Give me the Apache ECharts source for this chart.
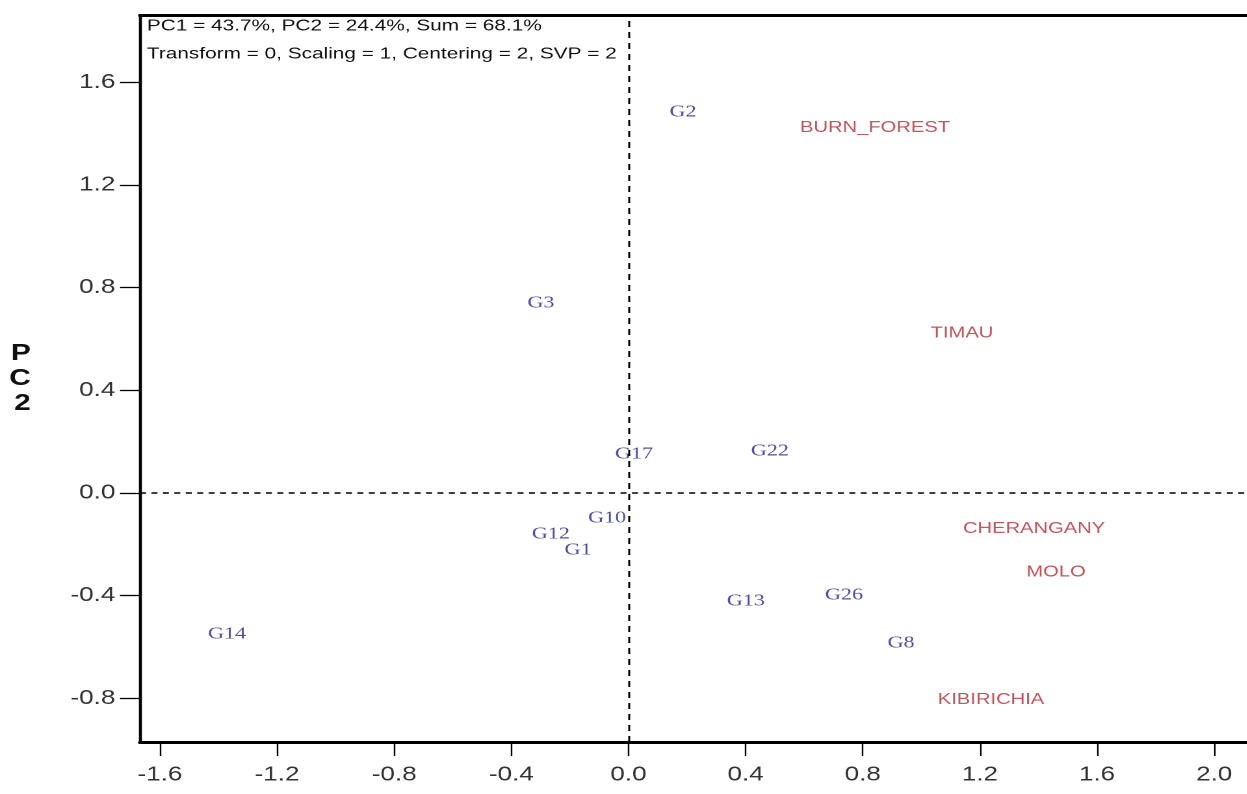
<!DOCTYPE html>
<html>
<head>
<meta charset="utf-8">
<script src="https://cdn.jsdelivr.net/npm/echarts@6/dist/echarts.min.js"></script>
<style>
html,body{margin:0;padding:0;background:#fff;overflow:hidden;width:1247px;height:794px;}
#c{width:959px;height:794px;transform:scaleX(1.3);transform-origin:0 0;}
</style>
</head>
<body>
<div id="c"></div>
<script>
// Genotype labels (blue) and their PC1/PC2 scores
var genoNames = ['G2','G3','G17','G22','G10','G12','G1','G13','G26','G8','G14'];
var genoPC1   = [0.186, -0.299, 0.019, 0.483, -0.073, -0.265, -0.172, 0.401, 0.736, 0.931, -1.371];
var genoPC2   = [1.484, 0.740, 0.152, 0.164, -0.097, -0.160, -0.222, -0.421, -0.397, -0.584, -0.549];
// Environment labels (red)
var envNames = ['BURN_FOREST','TIMAU','CHERANGANY','MOLO','KIBIRICHIA'];
var envPC1   = [0.842, 1.139, 1.385, 1.460, 1.238];
var envPC2   = [1.422, 0.623, -0.140, -0.308, -0.806];
// Tick labels
var xTicks = [-1.6,-1.2,-0.8,-0.4,0.0,0.4,0.8,1.2,1.6,2.0];
var yTicks = [-0.8,-0.4,0.0,0.4,0.8,1.2,1.6];
var headerLines = ['PC1 = 43.7%, PC2 = 24.4%, Sum = 68.1%', 'Transform = 0, Scaling = 1, Centering = 2, SVP = 2'];

var genoData = genoNames.map(function(n,i){return {name:n, value:[genoPC1[i], genoPC2[i]]};});
var envData = envNames.map(function(n,i){return {name:n, value:[envPC1[i], envPC2[i]]};});

var SANS = 'Liberation Sans, Arial, sans-serif';
var XMIN = -1.668, XMAX = 2.12;

var chart = echarts.init(document.getElementById('c'), null, {renderer:'canvas', devicePixelRatio:2});
chart.setOption({
  animation:false,
  backgroundColor:'#fff',
  grid:{left:107.7, top:15, right:-2, bottom:52, containLabel:false, outerBoundsMode:'none', show:false},
  xAxis:[{
    type:'value', min:XMIN, max:XMAX, position:'bottom',
    axisLine:{show:true, onZero:false, lineStyle:{color:'#000', width:3}},
    axisTick:{show:true, customValues:xTicks, length:14, lineStyle:{color:'#000', width:1.2}},
    axisLabel:{show:true, customValues:xTicks, margin:23, fontFamily:SANS, fontSize:20, color:'#333',
      formatter:function(v){return v.toFixed(1);}},
    splitLine:{show:false}
  },{
    type:'value', min:XMIN, max:XMAX, position:'top',
    axisLine:{show:true, onZero:false, lineStyle:{color:'#000', width:3}},
    axisTick:{show:false}, axisLabel:{show:false}, splitLine:{show:false}
  }],
  yAxis:{
    type:'value', min:-0.97, max:1.862,
    name:'P\nC\n2', nameLocation:'middle', nameRotate:0, nameGap:84,
    nameTextStyle:{fontFamily:SANS, fontWeight:'bold', fontSize:23, color:'#111', lineHeight:25},
    axisLine:{show:true, onZero:false, lineStyle:{color:'#000', width:2.3}},
    axisTick:{show:true, customValues:yTicks, length:15.4, lineStyle:{color:'#000', width:1.3}},
    axisLabel:{show:true, customValues:yTicks, margin:19, fontFamily:SANS, fontSize:20, color:'#333',
      formatter:function(v){return v.toFixed(1);}},
    splitLine:{show:false}
  },
  graphic:[
    {type:'text', left:113, top:18, style:{text:headerLines[0], font:'16px "Liberation Sans", Arial, sans-serif', fill:'#111'}},
    {type:'text', left:113, top:46, style:{text:headerLines[1], font:'16px "Liberation Sans", Arial, sans-serif', fill:'#111'}}
  ],
  series:[
    {
      type:'scatter', data:genoData, symbolSize:1, itemStyle:{color:'rgba(0,0,0,0)'},
      label:{show:true, position:'inside', formatter:'{b}', fontFamily:'Liberation Serif, Times New Roman, serif', fontSize:17, color:'#262688'},
      markLine:{silent:true, symbol:['none','none'], label:{show:false},
        data:[
          {xAxis:0, lineStyle:{color:'#000', type:[6,5], width:1.5}},
          {yAxis:0, lineStyle:{color:'#000', type:[4.6,4.2], width:1.6}}
        ]}
    },
    {
      type:'scatter', data:envData, symbolSize:1, itemStyle:{color:'rgba(0,0,0,0)'},
      label:{show:true, position:'inside', formatter:'{b}', fontFamily:SANS, fontSize:15.5, color:'#ad2e35'}
    }
  ]
});
</script>
</body>
</html>
